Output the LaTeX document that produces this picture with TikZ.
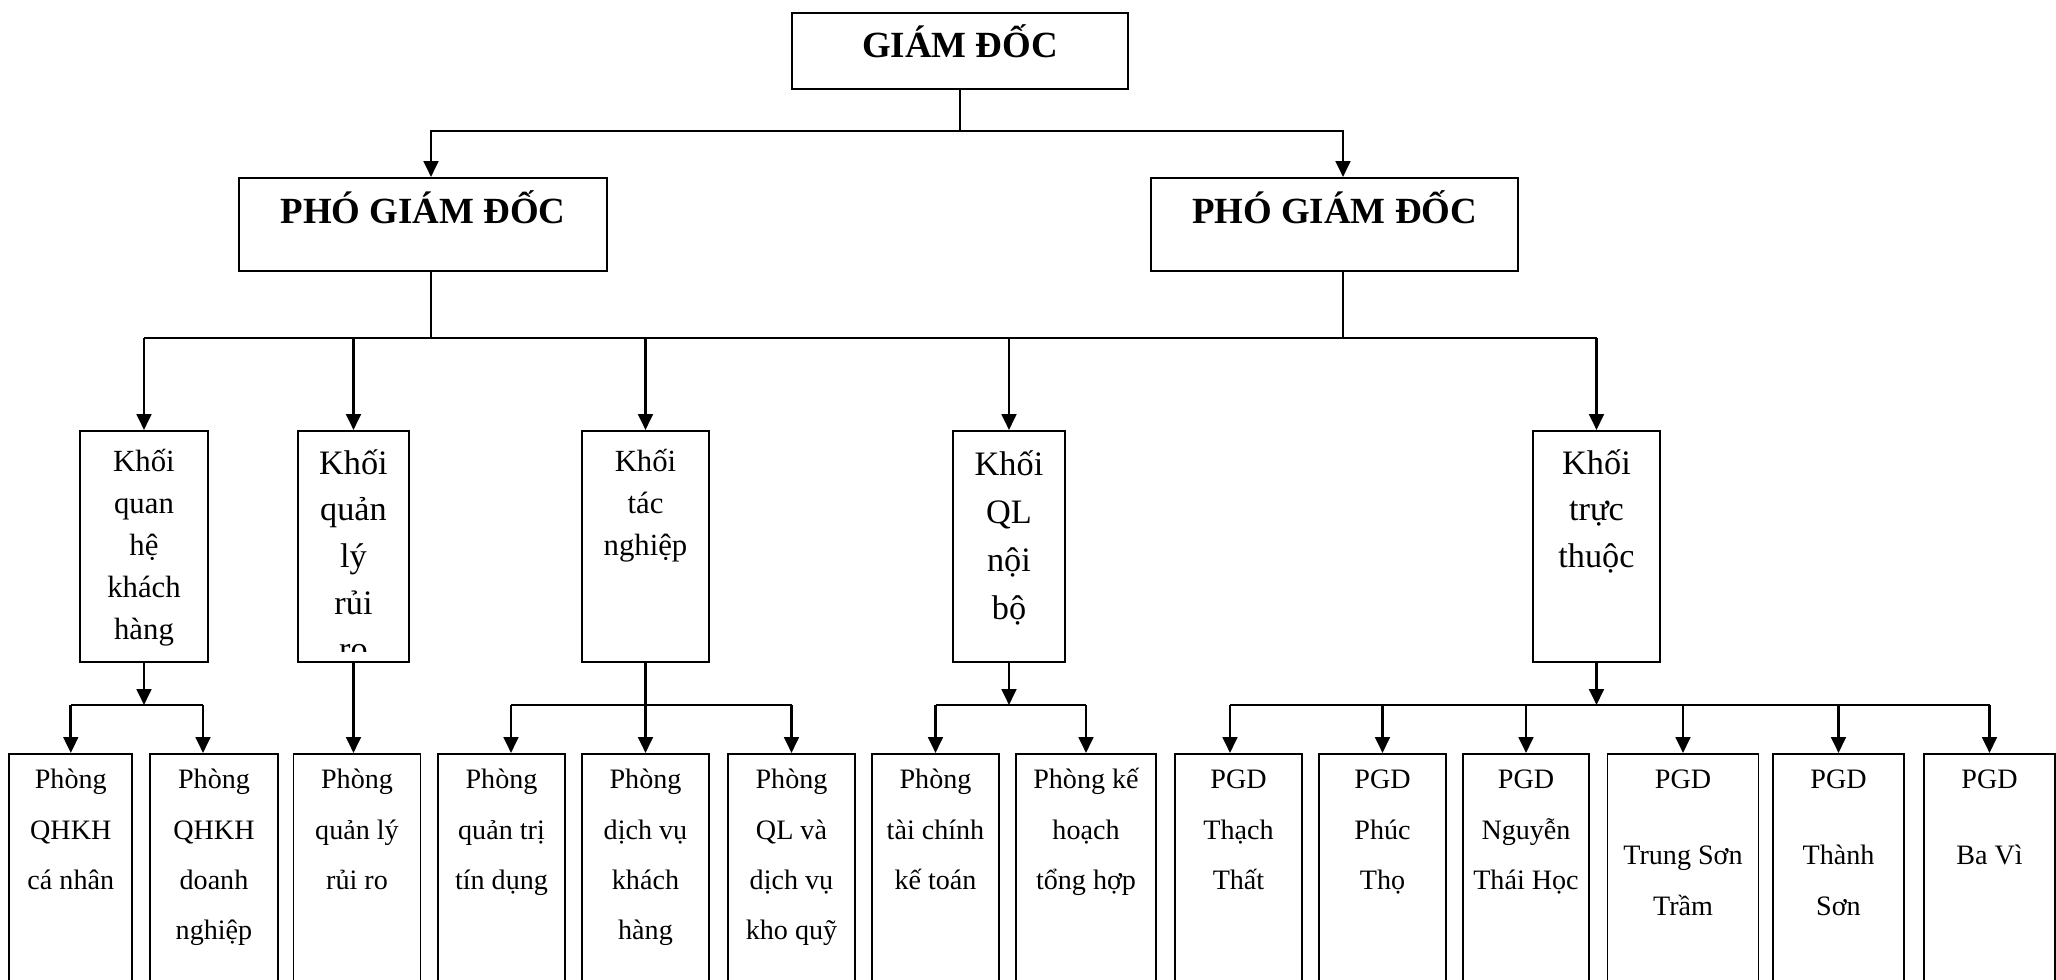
\documentclass[tikz,border=0pt]{standalone}
\usepackage{fontspec}
\setmainfont{Liberation Serif}
\usetikzlibrary{arrows.meta}

\tikzset{
  chartbox/.style={draw=black, line width=1.1pt, inner sep=0pt, anchor=north},
  linkline/.style={black, line width=1.5pt},
  linkarrow/.style={linkline, -{Triangle[length=9pt,width=8.3pt]}},
  headtext/.style={inner sep=0pt, font=\bfseries\fontsize{21}{25}\selectfont},
  unittext/.style={inner sep=0pt, anchor=north, align=center, yshift=-6.5pt, font=\fontsize{17.5}{23.9}\selectfont},
  bigunittext/.style={unittext, font=\fontsize{19.5}{26.5}\selectfont},
  roomtext/.style={inner sep=0pt, anchor=north, align=center, font=\fontsize{16}{28.7}\selectfont}
}

\begin{document}
\begin{tikzpicture}[x=0.2mm, y=-0.2mm]
\clip (0,0) rectangle (2056,980);
\node [chartbox, minimum width=67.2mm, minimum height=15.2mm] (gd) at (960,12) {};
\node [headtext] (gdt) at ([yshift=2mm]gd.center) {GIÁM ĐỐC};
\node [chartbox, minimum width=73.6mm, minimum height=18.6mm] (pgd1) at (423,177) {};
\node [headtext] (pgd1t) at ([yshift=3.5mm]pgd1.center) {PHÓ GIÁM ĐỐC};
\node [chartbox, minimum width=73.4mm, minimum height=18.6mm] (pgd2) at (1334.5,177) {};
\node [headtext] (pgd2t) at ([yshift=3.5mm]pgd2.center) {PHÓ GIÁM ĐỐC};
\node [chartbox, minimum width=25.6mm, minimum height=46.2mm] (k1) at (144,430) {};
\node [unittext] (k1t) at (k1.north) {\strut Khối\\quan\\hệ\\khách\\hàng};
\node [chartbox, minimum width=22.2mm, minimum height=46.2mm] (k2) at (353.5,430) {};
\begin{scope}
\clip (k2.north west) rectangle ([yshift=2.2mm]k2.south east);
\node [bigunittext] (k2t) at (k2.north) {\strut Khối\\quản\\lý\\rủi\\ro};
\end{scope}
\node [chartbox, minimum width=25.4mm, minimum height=46.2mm] (k3) at (645.5,430) {};
\node [unittext] (k3t) at (k3.north) {\strut Khối\\tác\\nghiệp};
\node [chartbox, minimum width=22.4mm, minimum height=46.2mm] (k4) at (1009,430) {};
\node [bigunittext, font=\fontsize{19.5}{27.3}\selectfont] (k4t) at (k4.north) {\strut Khối\\QL\\nội\\bộ};
\node [chartbox, minimum width=25.4mm, minimum height=46.2mm] (k5) at (1596.5,430) {};
\node [bigunittext] (k5t) at (k5.north) {\strut Khối\\trực\\thuộc};
\node [chartbox, minimum width=24.6mm, minimum height=60mm] (p1) at (70.8,753) {};
\node [roomtext] (p1t) at (p1.north) {\strut Phòng\\QHKH\\cá nhân};
\node [chartbox, minimum width=25.7mm, minimum height=60mm] (p2) at (214,753) {};
\node [roomtext] (p2t) at (p2.north) {\strut Phòng\\QHKH\\doanh\\nghiệp};
\node [chartbox, minimum width=25.4mm, minimum height=60mm] (p3) at (357,753) {};
\node [roomtext] (p3t) at (p3.north) {\strut Phòng\\quản lý\\rủi ro};
\node [chartbox, minimum width=25.4mm, minimum height=60mm] (p4) at (501.5,753) {};
\node [roomtext] (p4t) at (p4.north) {\strut Phòng\\quản trị\\tín dụng};
\node [chartbox, minimum width=25.4mm, minimum height=60mm] (p5) at (645.5,753) {};
\node [roomtext] (p5t) at (p5.north) {\strut Phòng\\dịch vụ\\khách\\hàng};
\node [chartbox, minimum width=25.4mm, minimum height=60mm] (p6) at (791.5,753) {};
\node [roomtext] (p6t) at (p6.north) {\strut Phòng\\QL và\\dịch vụ\\kho quỹ};
\node [chartbox, minimum width=25.4mm, minimum height=60mm] (p7) at (935.5,753) {};
\node [roomtext] (p7t) at (p7.north) {\strut Phòng\\tài chính\\kế toán};
\node [chartbox, minimum width=28mm, minimum height=60mm] (p8) at (1086,753) {};
\node [roomtext] (p8t) at (p8.north) {\strut Phòng kế\\hoạch\\tổng hợp};
\node [chartbox, minimum width=25.4mm, minimum height=60mm] (p9) at (1238.5,753) {};
\node [roomtext] (p9t) at (p9.north) {\strut PGD\\Thạch\\Thất};
\node [chartbox, minimum width=25.4mm, minimum height=60mm] (p10) at (1382.5,753) {};
\node [roomtext] (p10t) at (p10.north) {\strut PGD\\Phúc\\Thọ};
\node [chartbox, minimum width=25.2mm, minimum height=60mm] (p11) at (1526,753) {};
\node [roomtext] (p11t) at (p11.north) {\strut PGD\\Nguyễn\\Thái Học};
\node [chartbox, minimum width=30.2mm, minimum height=60mm] (p12) at (1683,753) {};
\node [roomtext] (p12t) at (p12.north) {\strut PGD\\[14.5pt]Trung Sơn\\Trầm};
\node [chartbox, minimum width=26.2mm, minimum height=60mm] (p13) at (1838.5,753) {};
\node [roomtext] (p13t) at (p13.north) {\strut PGD\\[14.5pt]Thành\\Sơn};
\node [chartbox, minimum width=26.2mm, minimum height=60mm] (p14) at (1989.5,753) {};
\node [roomtext] (p14t) at (p14.north) {\strut PGD\\[14.5pt]Ba Vì};
\coordinate (bus1) at (0,131);
\coordinate (bus2) at (0,338);
\coordinate (bus3) at (0,705);
\coordinate (pgd1x) at ([xshift=1.6mm]pgd1.center);
\coordinate (pgd2x) at ([xshift=1.7mm]pgd2.center);
\coordinate (p2x) at ([xshift=-2.2mm]p2.north);
\coordinate (p4x) at ([xshift=1.9mm]p4.north);
\coordinate (p9x) at ([xshift=-1.7mm]p9.north);
\draw [linkline, line width=1.1pt] (gd.south) -- (gd.south |- bus1);
\draw [linkarrow] (gd.south |- bus1) -| (pgd1x |- pgd1.north);
\draw [linkarrow] (gd.south |- bus1) -| (pgd2x |- pgd2.north);
\draw [linkline] (pgd1x |- pgd1.south) |- (k1.north |- bus2);
\draw [linkline] (pgd2x |- pgd2.south) |- (k5.north |- bus2);
\draw [linkline] (k1.north |- bus2) -- (k5.north |- bus2);
\foreach \k in {k1,k2,k3,k4,k5}
  \draw [linkarrow] (\k.north |- bus2) -- (\k.north);
\draw [linkarrow] (k1.south) -- (k1.south |- bus3);
\draw [linkline] (p1.north |- bus3) -- (p2x |- bus3);
\draw [linkarrow] (p1.north |- bus3) -- (p1.north);
\draw [linkarrow] (p2x |- bus3) -- (p2x);
\draw [linkarrow] (k2.south) -- (k2.south |- p3.north);
\draw [linkline] (k3.south) -- (k3.south |- bus3);
\draw [linkline] (p4x |- bus3) -- (p6.north |- bus3);
\draw [linkarrow] (p4x |- bus3) -- (p4x);
\draw [linkarrow] (p5.north |- bus3) -- (p5.north);
\draw [linkarrow] (p6.north |- bus3) -- (p6.north);
\draw [linkarrow] (k4.south) -- (k4.south |- bus3);
\draw [linkline] (p7.north |- bus3) -- (p8.north |- bus3);
\draw [linkarrow] (p7.north |- bus3) -- (p7.north);
\draw [linkarrow] (p8.north |- bus3) -- (p8.north);
\draw [linkarrow] (k5.south) -- (k5.south |- bus3);
\draw [linkline] (p9x |- bus3) -- (p14.north |- bus3);
\draw [linkarrow] (p9x |- bus3) -- (p9x);
\foreach \p in {p10,p11,p12,p13,p14}
  \draw [linkarrow] (\p.north |- bus3) -- (\p.north);
\end{tikzpicture}
\end{document}
